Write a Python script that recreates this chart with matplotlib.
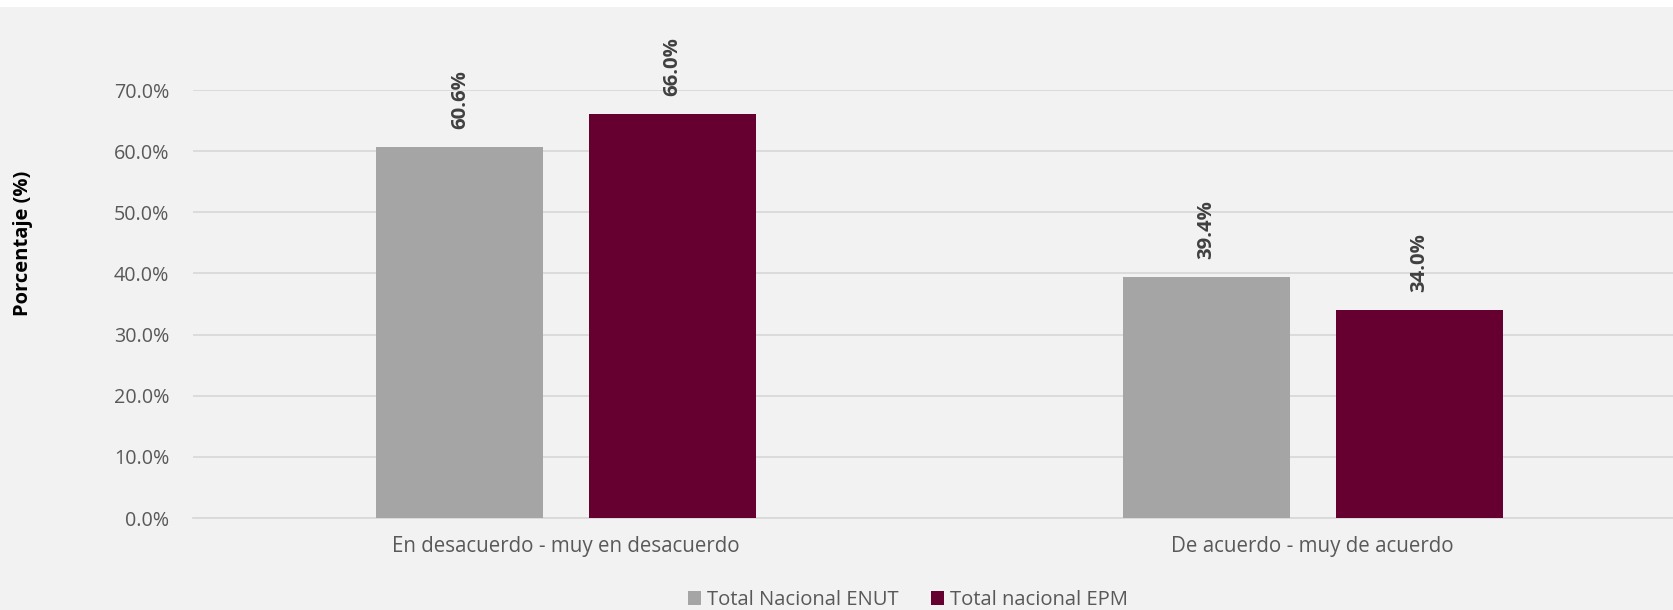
import matplotlib

matplotlib.use("Agg")
import matplotlib.pyplot as plt
import numpy as np
from matplotlib.patches import Patch, Rectangle

categories = ["En desacuerdo - muy en desacuerdo", "De acuerdo - muy de acuerdo"]
series_names = ["Total Nacional ENUT", "Total nacional EPM"]
enut = [60.6, 39.4]
epm = [66.0, 34.0]
yticks = [0, 10, 20, 30, 40, 50, 60, 70]

GREY = "#A5A5A5"
MAROON = "#660030"
BG = "#F2F2F2"
TXT = "#595959"

plt.rcParams["font.family"] = ["Open Sans", "DejaVu Sans"]

W, H = 1673, 610
fig = plt.figure(figsize=(W / 100, H / 100), dpi=100, facecolor=BG)
fig.patches.append(Rectangle((0, 1 - 7 / H), 1, 7 / H, transform=fig.transFigure,
                             facecolor="white", edgecolor="none", zorder=0))

ax = fig.add_axes([193 / W, (H - 518) / H, (W - 193) / W, 428 / H])
ax.set_facecolor(BG)

x = np.arange(len(categories))
bw = 0.2237
off = 0.1425
b1 = ax.bar(x - off, enut, bw, color=GREY, zorder=3)
b2 = ax.bar(x + off, epm, bw, color=MAROON, zorder=3)

for bars, vals in ((b1, enut), (b2, epm)):
    for rect, v in zip(bars, vals):
        ax.annotate(f"{v:.1f}%", (rect.get_x() + rect.get_width() / 2, v),
                    xytext=(0, 13), textcoords="offset points", rotation=90,
                    ha="center", va="bottom", fontsize=14.6, fontweight="bold",
                    color="#404040", annotation_clip=False)

ax.set_xlim(-0.5, -0.5 + (W - 193) / 746.5)
ax.set_ylim(0, 70)
ax.set_yticks(yticks)
ax.set_yticklabels([f"{t:.1f}%" for t in yticks], fontsize=14.2, color=TXT)
ax.set_xticks(x)
ax.set_xticklabels(categories, fontsize=14.8, color=TXT)
ax.tick_params(length=0, axis="y", pad=17)
ax.tick_params(length=0, axis="x", pad=13)
ax.grid(axis="y", color="#D9D9D9", linewidth=1.3, zorder=0)
for s in ("top", "right", "left"):
    ax.spines[s].set_visible(False)
ax.spines["bottom"].set_color("#D9D9D9")
ax.spines["bottom"].set_linewidth(1.3)

fig.text(23 / W, 1 - 243 / H, "Porcentaje (%)", rotation=90, ha="center", va="center",
         fontsize=14.5, fontweight="bold", color="black")

handles = [Patch(facecolor=GREY), Patch(facecolor=MAROON)]
fig.legend(handles, series_names, loc="center", bbox_to_anchor=(908 / W, 1 - 600 / H), ncol=2,
           frameon=False, fontsize=14.6, labelcolor=TXT, handlelength=0.65, handleheight=0.65,
           handletextpad=0.3, columnspacing=1.6)

fig.savefig("out.png", dpi=100, facecolor=BG)
